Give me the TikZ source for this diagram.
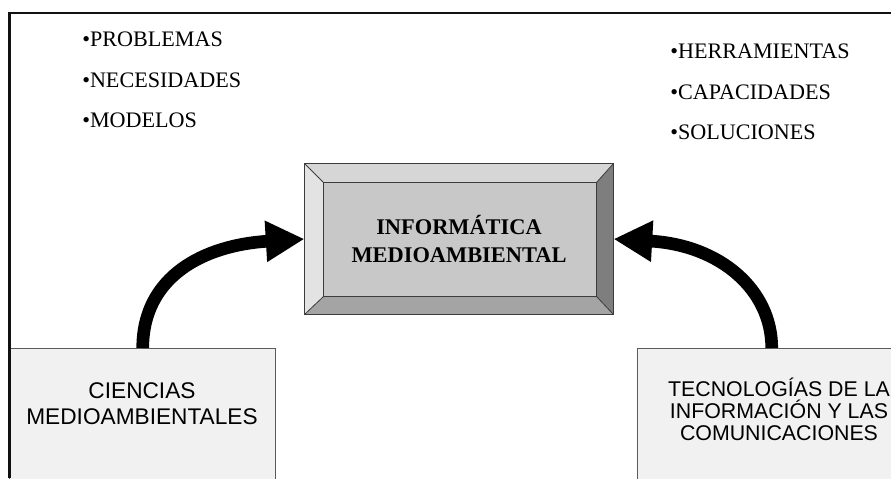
\documentclass[tikz,border=0pt]{standalone}
\usepackage{fontspec}
\setmainfont{Liberation Serif}
\setsansfont{Liberation Sans}
\usetikzlibrary{arrows.meta,calc}
\definecolor{frameBlack}{HTML}{111111}
\definecolor{boxFill}{HTML}{F1F1F1}
\definecolor{boxLine}{HTML}{5A5A5A}
\definecolor{faceGray}{HTML}{C8C8C8}
\definecolor{bevelTop}{HTML}{D6D6D6}
\definecolor{bevelLeft}{HTML}{E3E3E3}
\definecolor{bevelRight}{HTML}{7E7E7E}
\definecolor{bevelBottom}{HTML}{A4A4A4}
\definecolor{edgeGray}{HTML}{3C3C3C}

\begin{document}
\begin{tikzpicture}[
        x=0.75pt, y=-0.75pt,
        item/.style={anchor=base west, inner sep=0pt, font=\fontsize{16.6}{19}\selectfont},
        sidebox/.style={rectangle, draw=boxLine, line width=1.1pt, fill=boxFill, minimum width=199.5pt, minimum height=120pt, anchor=north west},
        sidetext/.style={align=center, inner sep=0pt, font=\sffamily\fontsize{17}{19.5}\selectfont},
        core/.style={rectangle, draw=edgeGray, line width=0.8pt, fill=faceGray, minimum width=231pt, minimum height=112.5pt, inner sep=0pt, align=center, font=\bfseries\fontsize{16.8}{21}\selectfont},
        bigarrow/.style={-{Triangle[length=29pt, width=29pt]}, line width=9.5pt, draw=black}
      ]
        \clip (0,0) rectangle (891,478);
        \fill[white] (0,0) rectangle (891,478);
        % lists
        \node[item] (prob) at (82,47) {•PROBLEMAS};
        \node[item] (nece) at (82,87) {•NECESIDADES};
        \node[item] (mode) at (82,127) {•MODELOS};
        \node[item] (herr) at (670,59) {•HERRAMIENTAS};
        \node[item] (capa) at (670,99) {•CAPACIDADES};
        \node[item] (solu) at (670,139) {•SOLUCIONES};
        % central bevelled box
        \node[core] (info) at (459,239) {INFORMÁTICA\\MEDIOAMBIENTAL};
        \coordinate (f-nw) at ($(info.north west)+(19,19)$);
        \coordinate (f-ne) at ($(info.north east)+(-17,19)$);
        \coordinate (f-se) at ($(info.south east)+(-17,-18)$);
        \coordinate (f-sw) at ($(info.south west)+(19,-18)$);
        \fill[bevelTop] (info.north west) -- (info.north east) -- (f-ne) -- (f-nw) -- cycle;
        \fill[bevelLeft] (info.north west) -- (f-nw) -- (f-sw) -- (info.south west) -- cycle;
        \fill[bevelRight] (info.north east) -- (info.south east) -- (f-se) -- (f-ne) -- cycle;
        \fill[bevelBottom] (info.south west) -- (f-sw) -- (f-se) -- (info.south east) -- cycle;
        \draw[edgeGray, line width=0.8pt] (f-nw) rectangle (f-se);
        \draw[edgeGray, line width=0.6pt] (info.north west) -- (f-nw) (info.north east) -- (f-ne)
          (info.south east) -- (f-se) (info.south west) -- (f-sw);
        \draw[edgeGray, line width=0.8pt] (info.north west) rectangle (info.south east);
        % bottom boxes
        \node[sidebox] (cienbox) at (9,348) {};
        \node[sidetext] (cien) at (142,404) {CIENCIAS\\MEDIOAMBIENTALES};
        \node[sidebox, minimum width=201pt] (tecbox) at (637,348) {};
        \node[sidetext, font=\sffamily\fontsize{16}{16.5}\selectfont] (tec) at (779,409) {TECNOLOGÍAS DE LA\\INFORMACIÓN Y LAS\\COMUNICACIONES};
        % arrows
        \draw[bigarrow] (cienbox.north) .. controls ($(cienbox.north)+(0,-72)$) and ($(info.west)+(-100,6)$) .. (info.west);
        \draw[bigarrow] (tecbox.north) .. controls ($(tecbox.north)+(0,-58)$) and ($(info.east)+(107,6)$) .. (info.east);
        % frame
        \draw[frameBlack, line width=2pt] (891,13) -- (9.5,13) -- (9.5,478);
      \end{tikzpicture}
\end{document}
